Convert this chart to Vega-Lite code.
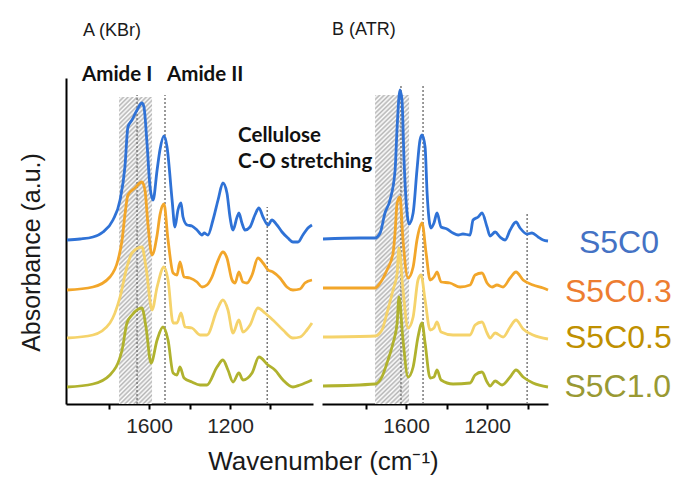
{
  "$schema": "https://vega.github.io/schema/vega-lite/v6.json",
  "autosize": {"type": "none"},
  "padding": {"left": 66, "top": 78, "right": 614, "bottom": 405},
  "background": "white",
  "bounds": "flush",
  "spacing": 9,
  "config": {
    "view": {"stroke": null},
    "font": "Liberation Sans",
    "rect": {"fill": {"gradient": "linear", "x1": 0, "y1": 0, "x2": 0.117, "y2": 1.0946, "stops": [
      {"offset":0,"color":"#b5b5b5"},{"offset":0.0067,"color":"#fff"},{"offset":0.0133,"color":"#b5b5b5"},{"offset":0.02,"color":"#fff"},{"offset":0.0267,"color":"#b5b5b5"},{"offset":0.0333,"color":"#fff"},
      {"offset":0.04,"color":"#b5b5b5"},{"offset":0.0467,"color":"#fff"},{"offset":0.0533,"color":"#b5b5b5"},{"offset":0.06,"color":"#fff"},{"offset":0.0667,"color":"#b5b5b5"},{"offset":0.0733,"color":"#fff"},
      {"offset":0.08,"color":"#b5b5b5"},{"offset":0.0867,"color":"#fff"},{"offset":0.0933,"color":"#b5b5b5"},{"offset":0.1,"color":"#fff"},{"offset":0.1067,"color":"#b5b5b5"},{"offset":0.1133,"color":"#fff"},
      {"offset":0.12,"color":"#b5b5b5"},{"offset":0.1267,"color":"#fff"},{"offset":0.1333,"color":"#b5b5b5"},{"offset":0.14,"color":"#fff"},{"offset":0.1467,"color":"#b5b5b5"},{"offset":0.1533,"color":"#fff"},
      {"offset":0.16,"color":"#b5b5b5"},{"offset":0.1667,"color":"#fff"},{"offset":0.1733,"color":"#b5b5b5"},{"offset":0.18,"color":"#fff"},{"offset":0.1867,"color":"#b5b5b5"},{"offset":0.1933,"color":"#fff"},
      {"offset":0.2,"color":"#b5b5b5"},{"offset":0.2067,"color":"#fff"},{"offset":0.2133,"color":"#b5b5b5"},{"offset":0.22,"color":"#fff"},{"offset":0.2267,"color":"#b5b5b5"},{"offset":0.2333,"color":"#fff"},
      {"offset":0.24,"color":"#b5b5b5"},{"offset":0.2467,"color":"#fff"},{"offset":0.2533,"color":"#b5b5b5"},{"offset":0.26,"color":"#fff"},{"offset":0.2667,"color":"#b5b5b5"},{"offset":0.2733,"color":"#fff"},
      {"offset":0.28,"color":"#b5b5b5"},{"offset":0.2867,"color":"#fff"},{"offset":0.2933,"color":"#b5b5b5"},{"offset":0.3,"color":"#fff"},{"offset":0.3067,"color":"#b5b5b5"},{"offset":0.3133,"color":"#fff"},
      {"offset":0.32,"color":"#b5b5b5"},{"offset":0.3267,"color":"#fff"},{"offset":0.3333,"color":"#b5b5b5"},{"offset":0.34,"color":"#fff"},{"offset":0.3467,"color":"#b5b5b5"},{"offset":0.3533,"color":"#fff"},
      {"offset":0.36,"color":"#b5b5b5"},{"offset":0.3667,"color":"#fff"},{"offset":0.3733,"color":"#b5b5b5"},{"offset":0.38,"color":"#fff"},{"offset":0.3867,"color":"#b5b5b5"},{"offset":0.3933,"color":"#fff"},
      {"offset":0.4,"color":"#b5b5b5"},{"offset":0.4067,"color":"#fff"},{"offset":0.4133,"color":"#b5b5b5"},{"offset":0.42,"color":"#fff"},{"offset":0.4267,"color":"#b5b5b5"},{"offset":0.4333,"color":"#fff"},
      {"offset":0.44,"color":"#b5b5b5"},{"offset":0.4467,"color":"#fff"},{"offset":0.4533,"color":"#b5b5b5"},{"offset":0.46,"color":"#fff"},{"offset":0.4667,"color":"#b5b5b5"},{"offset":0.4733,"color":"#fff"},
      {"offset":0.48,"color":"#b5b5b5"},{"offset":0.4867,"color":"#fff"},{"offset":0.4933,"color":"#b5b5b5"},{"offset":0.5,"color":"#fff"},{"offset":0.5067,"color":"#b5b5b5"},{"offset":0.5133,"color":"#fff"},
      {"offset":0.52,"color":"#b5b5b5"},{"offset":0.5267,"color":"#fff"},{"offset":0.5333,"color":"#b5b5b5"},{"offset":0.54,"color":"#fff"},{"offset":0.5467,"color":"#b5b5b5"},{"offset":0.5533,"color":"#fff"},
      {"offset":0.56,"color":"#b5b5b5"},{"offset":0.5667,"color":"#fff"},{"offset":0.5733,"color":"#b5b5b5"},{"offset":0.58,"color":"#fff"},{"offset":0.5867,"color":"#b5b5b5"},{"offset":0.5933,"color":"#fff"},
      {"offset":0.6,"color":"#b5b5b5"},{"offset":0.6067,"color":"#fff"},{"offset":0.6133,"color":"#b5b5b5"},{"offset":0.62,"color":"#fff"},{"offset":0.6267,"color":"#b5b5b5"},{"offset":0.6333,"color":"#fff"},
      {"offset":0.64,"color":"#b5b5b5"},{"offset":0.6467,"color":"#fff"},{"offset":0.6533,"color":"#b5b5b5"},{"offset":0.66,"color":"#fff"},{"offset":0.6667,"color":"#b5b5b5"},{"offset":0.6733,"color":"#fff"},
      {"offset":0.68,"color":"#b5b5b5"},{"offset":0.6867,"color":"#fff"},{"offset":0.6933,"color":"#b5b5b5"},{"offset":0.7,"color":"#fff"},{"offset":0.7067,"color":"#b5b5b5"},{"offset":0.7133,"color":"#fff"},
      {"offset":0.72,"color":"#b5b5b5"},{"offset":0.7267,"color":"#fff"},{"offset":0.7333,"color":"#b5b5b5"},{"offset":0.74,"color":"#fff"},{"offset":0.7467,"color":"#b5b5b5"},{"offset":0.7533,"color":"#fff"},
      {"offset":0.76,"color":"#b5b5b5"},{"offset":0.7667,"color":"#fff"},{"offset":0.7733,"color":"#b5b5b5"},{"offset":0.78,"color":"#fff"},{"offset":0.7867,"color":"#b5b5b5"},{"offset":0.7933,"color":"#fff"},
      {"offset":0.8,"color":"#b5b5b5"},{"offset":0.8067,"color":"#fff"},{"offset":0.8133,"color":"#b5b5b5"},{"offset":0.82,"color":"#fff"},{"offset":0.8267,"color":"#b5b5b5"},{"offset":0.8333,"color":"#fff"},
      {"offset":0.84,"color":"#b5b5b5"},{"offset":0.8467,"color":"#fff"},{"offset":0.8533,"color":"#b5b5b5"},{"offset":0.86,"color":"#fff"},{"offset":0.8667,"color":"#b5b5b5"},{"offset":0.8733,"color":"#fff"},
      {"offset":0.88,"color":"#b5b5b5"},{"offset":0.8867,"color":"#fff"},{"offset":0.8933,"color":"#b5b5b5"},{"offset":0.9,"color":"#fff"},{"offset":0.9067,"color":"#b5b5b5"},{"offset":0.9133,"color":"#fff"},
      {"offset":0.92,"color":"#b5b5b5"},{"offset":0.9267,"color":"#fff"},{"offset":0.9333,"color":"#b5b5b5"},{"offset":0.94,"color":"#fff"},{"offset":0.9467,"color":"#b5b5b5"},{"offset":0.9533,"color":"#fff"},
      {"offset":0.96,"color":"#b5b5b5"},{"offset":0.9667,"color":"#fff"},{"offset":0.9733,"color":"#b5b5b5"},{"offset":0.98,"color":"#fff"},{"offset":0.9867,"color":"#b5b5b5"},{"offset":0.9933,"color":"#fff"},
      {"offset":1,"color":"#b5b5b5"}
    ]}}
  },
  "datasets": {
    "A": [
      {"s":"S5C0","w":2005,"a":1.64},{"s":"S5C0","w":1941,"a":1.65},{"s":"S5C0","w":1877,"a":1.67},{"s":"S5C0","w":1827,"a":1.72},{"s":"S5C0","w":1778,"a":1.84},{"s":"S5C0","w":1743,"a":2.04},{"s":"S5C0","w":1719,"a":2.37},{"s":"S5C0","w":1704,"a":2.77},{"s":"S5C0","w":1684,"a":2.84},{"s":"S5C0","w":1659,"a":2.94},{"s":"S5C0","w":1635,"a":3.01},{"s":"S5C0","w":1625,"a":2.97},{"s":"S5C0","w":1610,"a":2.61},{"s":"S5C0","w":1595,"a":2.17},{"s":"S5C0","w":1580,"a":2.04},{"s":"S5C0","w":1560,"a":2.34},{"s":"S5C0","w":1546,"a":2.54},{"s":"S5C0","w":1526,"a":2.68},{"s":"S5C0","w":1511,"a":2.57},{"s":"S5C0","w":1486,"a":2.04},{"s":"S5C0","w":1472,"a":1.77},{"s":"S5C0","w":1457,"a":1.94},{"s":"S5C0","w":1442,"a":2.01},{"s":"S5C0","w":1432,"a":1.87},{"s":"S5C0","w":1412,"a":1.79},{"s":"S5C0","w":1388,"a":1.78},{"s":"S5C0","w":1363,"a":1.74},{"s":"S5C0","w":1338,"a":1.69},{"s":"S5C0","w":1328,"a":1.71},{"s":"S5C0","w":1309,"a":1.69},{"s":"S5C0","w":1284,"a":1.84},{"s":"S5C0","w":1259,"a":2.04},{"s":"S5C0","w":1235,"a":2.21},{"s":"S5C0","w":1215,"a":2.11},{"s":"S5C0","w":1200,"a":1.87},{"s":"S5C0","w":1185,"a":1.74},{"s":"S5C0","w":1165,"a":1.87},{"s":"S5C0","w":1156,"a":1.91},{"s":"S5C0","w":1141,"a":1.81},{"s":"S5C0","w":1126,"a":1.74},{"s":"S5C0","w":1101,"a":1.77},{"s":"S5C0","w":1077,"a":1.89},{"s":"S5C0","w":1057,"a":1.96},{"s":"S5C0","w":1037,"a":1.87},{"s":"S5C0","w":1012,"a":1.79},{"s":"S5C0","w":993,"a":1.84},{"s":"S5C0","w":968,"a":1.79},{"s":"S5C0","w":943,"a":1.72},{"s":"S5C0","w":914,"a":1.66},{"s":"S5C0","w":889,"a":1.62},{"s":"S5C0","w":864,"a":1.62},{"s":"S5C0","w":840,"a":1.69},{"s":"S5C0","w":815,"a":1.76},{"s":"S5C0","w":795,"a":1.79},
      {"s":"S5C0.3","w":2005,"a":1.14},{"s":"S5C0.3","w":1877,"a":1.17},{"s":"S5C0.3","w":1793,"a":1.27},{"s":"S5C0.3","w":1753,"a":1.44},{"s":"S5C0.3","w":1733,"a":1.64},{"s":"S5C0.3","w":1719,"a":1.89},{"s":"S5C0.3","w":1704,"a":2.09},{"s":"S5C0.3","w":1669,"a":2.16},{"s":"S5C0.3","w":1635,"a":2.22},{"s":"S5C0.3","w":1620,"a":2.14},{"s":"S5C0.3","w":1605,"a":1.79},{"s":"S5C0.3","w":1585,"a":1.49},{"s":"S5C0.3","w":1560,"a":1.69},{"s":"S5C0.3","w":1546,"a":1.89},{"s":"S5C0.3","w":1526,"a":2.0},{"s":"S5C0.3","w":1506,"a":1.64},{"s":"S5C0.3","w":1481,"a":1.31},{"s":"S5C0.3","w":1462,"a":1.29},{"s":"S5C0.3","w":1447,"a":1.42},{"s":"S5C0.3","w":1427,"a":1.27},{"s":"S5C0.3","w":1398,"a":1.26},{"s":"S5C0.3","w":1363,"a":1.22},{"s":"S5C0.3","w":1338,"a":1.17},{"s":"S5C0.3","w":1314,"a":1.19},{"s":"S5C0.3","w":1289,"a":1.27},{"s":"S5C0.3","w":1264,"a":1.41},{"s":"S5C0.3","w":1235,"a":1.52},{"s":"S5C0.3","w":1215,"a":1.46},{"s":"S5C0.3","w":1190,"a":1.24},{"s":"S5C0.3","w":1175,"a":1.21},{"s":"S5C0.3","w":1156,"a":1.32},{"s":"S5C0.3","w":1136,"a":1.22},{"s":"S5C0.3","w":1116,"a":1.21},{"s":"S5C0.3","w":1091,"a":1.29},{"s":"S5C0.3","w":1062,"a":1.46},{"s":"S5C0.3","w":1037,"a":1.41},{"s":"S5C0.3","w":1012,"a":1.34},{"s":"S5C0.3","w":988,"a":1.32},{"s":"S5C0.3","w":953,"a":1.26},{"s":"S5C0.3","w":919,"a":1.17},{"s":"S5C0.3","w":889,"a":1.14},{"s":"S5C0.3","w":854,"a":1.15},{"s":"S5C0.3","w":830,"a":1.21},{"s":"S5C0.3","w":795,"a":1.24},
      {"s":"S5C0.5","w":2005,"a":0.66},{"s":"S5C0.5","w":1877,"a":0.69},{"s":"S5C0.5","w":1793,"a":0.81},{"s":"S5C0.5","w":1743,"a":1.07},{"s":"S5C0.5","w":1709,"a":1.37},{"s":"S5C0.5","w":1684,"a":1.51},{"s":"S5C0.5","w":1635,"a":1.57},{"s":"S5C0.5","w":1615,"a":1.37},{"s":"S5C0.5","w":1585,"a":0.94},{"s":"S5C0.5","w":1560,"a":1.17},{"s":"S5C0.5","w":1526,"a":1.37},{"s":"S5C0.5","w":1506,"a":1.24},{"s":"S5C0.5","w":1481,"a":0.81},{"s":"S5C0.5","w":1462,"a":0.81},{"s":"S5C0.5","w":1442,"a":0.91},{"s":"S5C0.5","w":1422,"a":0.77},{"s":"S5C0.5","w":1388,"a":0.76},{"s":"S5C0.5","w":1348,"a":0.69},{"s":"S5C0.5","w":1314,"a":0.69},{"s":"S5C0.5","w":1264,"a":0.94},{"s":"S5C0.5","w":1235,"a":1.04},{"s":"S5C0.5","w":1210,"a":0.94},{"s":"S5C0.5","w":1185,"a":0.71},{"s":"S5C0.5","w":1156,"a":0.84},{"s":"S5C0.5","w":1136,"a":0.72},{"s":"S5C0.5","w":1101,"a":0.79},{"s":"S5C0.5","w":1062,"a":0.96},{"s":"S5C0.5","w":1027,"a":0.91},{"s":"S5C0.5","w":988,"a":0.84},{"s":"S5C0.5","w":938,"a":0.74},{"s":"S5C0.5","w":889,"a":0.66},{"s":"S5C0.5","w":854,"a":0.67},{"s":"S5C0.5","w":820,"a":0.74},{"s":"S5C0.5","w":795,"a":0.81},
      {"s":"S5C1.0","w":2005,"a":0.17},{"s":"S5C1.0","w":1877,"a":0.2},{"s":"S5C1.0","w":1793,"a":0.29},{"s":"S5C1.0","w":1733,"a":0.54},{"s":"S5C1.0","w":1709,"a":0.81},{"s":"S5C1.0","w":1684,"a":0.89},{"s":"S5C1.0","w":1635,"a":0.96},{"s":"S5C1.0","w":1615,"a":0.77},{"s":"S5C1.0","w":1590,"a":0.41},{"s":"S5C1.0","w":1560,"a":0.64},{"s":"S5C1.0","w":1531,"a":0.77},{"s":"S5C1.0","w":1506,"a":0.64},{"s":"S5C1.0","w":1481,"a":0.31},{"s":"S5C1.0","w":1462,"a":0.29},{"s":"S5C1.0","w":1447,"a":0.37},{"s":"S5C1.0","w":1427,"a":0.26},{"s":"S5C1.0","w":1388,"a":0.22},{"s":"S5C1.0","w":1348,"a":0.19},{"s":"S5C1.0","w":1314,"a":0.19},{"s":"S5C1.0","w":1264,"a":0.37},{"s":"S5C1.0","w":1235,"a":0.44},{"s":"S5C1.0","w":1210,"a":0.34},{"s":"S5C1.0","w":1185,"a":0.22},{"s":"S5C1.0","w":1156,"a":0.31},{"s":"S5C1.0","w":1136,"a":0.24},{"s":"S5C1.0","w":1091,"a":0.31},{"s":"S5C1.0","w":1057,"a":0.47},{"s":"S5C1.0","w":1012,"a":0.39},{"s":"S5C1.0","w":978,"a":0.34},{"s":"S5C1.0","w":938,"a":0.24},{"s":"S5C1.0","w":889,"a":0.17},{"s":"S5C1.0","w":854,"a":0.19},{"s":"S5C1.0","w":795,"a":0.24}
    ],
    "B": [
      {"s":"S5C0","w":2010,"a":1.65},{"s":"S5C0","w":1827,"a":1.66},{"s":"S5C0","w":1753,"a":1.66},{"s":"S5C0","w":1728,"a":1.71},{"s":"S5C0","w":1704,"a":1.91},{"s":"S5C0","w":1679,"a":2.04},{"s":"S5C0","w":1654,"a":2.34},{"s":"S5C0","w":1644,"a":2.77},{"s":"S5C0","w":1630,"a":3.14},{"s":"S5C0","w":1620,"a":3.04},{"s":"S5C0","w":1610,"a":2.44},{"s":"S5C0","w":1595,"a":1.91},{"s":"S5C0","w":1585,"a":1.8},{"s":"S5C0","w":1565,"a":1.91},{"s":"S5C0","w":1546,"a":2.34},{"s":"S5C0","w":1531,"a":2.64},{"s":"S5C0","w":1521,"a":2.69},{"s":"S5C0","w":1506,"a":2.57},{"s":"S5C0","w":1496,"a":2.11},{"s":"S5C0","w":1477,"a":1.76},{"s":"S5C0","w":1462,"a":1.81},{"s":"S5C0","w":1447,"a":1.91},{"s":"S5C0","w":1427,"a":1.77},{"s":"S5C0","w":1398,"a":1.75},{"s":"S5C0","w":1368,"a":1.71},{"s":"S5C0","w":1343,"a":1.69},{"s":"S5C0","w":1319,"a":1.7},{"s":"S5C0","w":1284,"a":1.69},{"s":"S5C0","w":1269,"a":1.84},{"s":"S5C0","w":1244,"a":1.87},{"s":"S5C0","w":1225,"a":1.91},{"s":"S5C0","w":1200,"a":1.77},{"s":"S5C0","w":1185,"a":1.68},{"s":"S5C0","w":1160,"a":1.72},{"s":"S5C0","w":1136,"a":1.67},{"s":"S5C0","w":1111,"a":1.64},{"s":"S5C0","w":1086,"a":1.74},{"s":"S5C0","w":1057,"a":1.82},{"s":"S5C0","w":1037,"a":1.76},{"s":"S5C0","w":1002,"a":1.7},{"s":"S5C0","w":978,"a":1.71},{"s":"S5C0","w":948,"a":1.67},{"s":"S5C0","w":923,"a":1.64},{"s":"S5C0","w":899,"a":1.63},
      {"s":"S5C0.3","w":2010,"a":1.16},{"s":"S5C0.3","w":1753,"a":1.16},{"s":"S5C0.3","w":1728,"a":1.21},{"s":"S5C0.3","w":1694,"a":1.34},{"s":"S5C0.3","w":1664,"a":1.51},{"s":"S5C0.3","w":1654,"a":1.72},{"s":"S5C0.3","w":1644,"a":2.01},{"s":"S5C0.3","w":1630,"a":2.07},{"s":"S5C0.3","w":1615,"a":1.64},{"s":"S5C0.3","w":1590,"a":1.26},{"s":"S5C0.3","w":1565,"a":1.37},{"s":"S5C0.3","w":1546,"a":1.64},{"s":"S5C0.3","w":1521,"a":1.81},{"s":"S5C0.3","w":1501,"a":1.51},{"s":"S5C0.3","w":1481,"a":1.24},{"s":"S5C0.3","w":1462,"a":1.27},{"s":"S5C0.3","w":1447,"a":1.32},{"s":"S5C0.3","w":1427,"a":1.22},{"s":"S5C0.3","w":1383,"a":1.21},{"s":"S5C0.3","w":1333,"a":1.17},{"s":"S5C0.3","w":1284,"a":1.19},{"s":"S5C0.3","w":1259,"a":1.29},{"s":"S5C0.3","w":1225,"a":1.31},{"s":"S5C0.3","w":1200,"a":1.21},{"s":"S5C0.3","w":1175,"a":1.17},{"s":"S5C0.3","w":1151,"a":1.19},{"s":"S5C0.3","w":1121,"a":1.17},{"s":"S5C0.3","w":1086,"a":1.26},{"s":"S5C0.3","w":1057,"a":1.32},{"s":"S5C0.3","w":1022,"a":1.24},{"s":"S5C0.3","w":973,"a":1.19},{"s":"S5C0.3","w":923,"a":1.16},{"s":"S5C0.3","w":899,"a":1.14},
      {"s":"S5C0.5","w":2010,"a":0.67},{"s":"S5C0.5","w":1753,"a":0.68},{"s":"S5C0.5","w":1719,"a":0.74},{"s":"S5C0.5","w":1694,"a":0.91},{"s":"S5C0.5","w":1664,"a":1.14},{"s":"S5C0.5","w":1644,"a":1.31},{"s":"S5C0.5","w":1635,"a":1.56},{"s":"S5C0.5","w":1615,"a":1.14},{"s":"S5C0.5","w":1590,"a":0.76},{"s":"S5C0.5","w":1565,"a":0.87},{"s":"S5C0.5","w":1541,"a":1.24},{"s":"S5C0.5","w":1526,"a":1.29},{"s":"S5C0.5","w":1506,"a":1.04},{"s":"S5C0.5","w":1481,"a":0.74},{"s":"S5C0.5","w":1462,"a":0.76},{"s":"S5C0.5","w":1447,"a":0.82},{"s":"S5C0.5","w":1427,"a":0.72},{"s":"S5C0.5","w":1368,"a":0.69},{"s":"S5C0.5","w":1284,"a":0.69},{"s":"S5C0.5","w":1259,"a":0.79},{"s":"S5C0.5","w":1225,"a":0.82},{"s":"S5C0.5","w":1200,"a":0.71},{"s":"S5C0.5","w":1185,"a":0.66},{"s":"S5C0.5","w":1160,"a":0.71},{"s":"S5C0.5","w":1121,"a":0.67},{"s":"S5C0.5","w":1086,"a":0.77},{"s":"S5C0.5","w":1057,"a":0.84},{"s":"S5C0.5","w":1022,"a":0.75},{"s":"S5C0.5","w":973,"a":0.69},{"s":"S5C0.5","w":899,"a":0.65},
      {"s":"S5C1.0","w":2010,"a":0.18},{"s":"S5C1.0","w":1753,"a":0.2},{"s":"S5C1.0","w":1719,"a":0.27},{"s":"S5C1.0","w":1694,"a":0.41},{"s":"S5C1.0","w":1664,"a":0.61},{"s":"S5C1.0","w":1644,"a":0.81},{"s":"S5C1.0","w":1635,"a":1.07},{"s":"S5C1.0","w":1615,"a":0.64},{"s":"S5C1.0","w":1590,"a":0.27},{"s":"S5C1.0","w":1565,"a":0.37},{"s":"S5C1.0","w":1541,"a":0.67},{"s":"S5C1.0","w":1521,"a":0.81},{"s":"S5C1.0","w":1506,"a":0.61},{"s":"S5C1.0","w":1481,"a":0.26},{"s":"S5C1.0","w":1462,"a":0.27},{"s":"S5C1.0","w":1447,"a":0.34},{"s":"S5C1.0","w":1427,"a":0.24},{"s":"S5C1.0","w":1368,"a":0.2},{"s":"S5C1.0","w":1284,"a":0.21},{"s":"S5C1.0","w":1259,"a":0.29},{"s":"S5C1.0","w":1225,"a":0.32},{"s":"S5C1.0","w":1200,"a":0.22},{"s":"S5C1.0","w":1185,"a":0.18},{"s":"S5C1.0","w":1160,"a":0.23},{"s":"S5C1.0","w":1126,"a":0.19},{"s":"S5C1.0","w":1086,"a":0.27},{"s":"S5C1.0","w":1057,"a":0.34},{"s":"S5C1.0","w":1022,"a":0.27},{"s":"S5C1.0","w":973,"a":0.21},{"s":"S5C1.0","w":899,"a":0.17}
    ],
    "hatchA": [{"w":1748,"w2":1585,"a":0,"a2":3.07}],
    "hatchB": [{"w":1753,"w2":1585,"a":0,"a2":3.09}],
    "dotsA": [{"w":1659,"a":0,"a2":3.09},{"w":1521,"a":0,"a2":3.09},{"w":1016,"a":0,"a2":1.97}],
    "dotsB": [{"w":1625,"a":0,"a2":3.18},{"w":1516,"a":0,"a2":3.18},{"w":1002,"a":0,"a2":1.9}],
    "notesA": [
      {"t":"Amide I","w":1931,"a":3.233},
      {"t":"Amide II","w":1511,"a":3.233},
      {"t":"Cellulose","w":1160,"a":2.623},
      {"t":"C-O stretching","w":1160,"a":2.36}
    ],
    "labelsB": [
      {"s":"S5C0","w":746,"a":1.51},
      {"s":"S5C0.3","w":815,"a":1.02},
      {"s":"S5C0.5","w":815,"a":0.56},
      {"s":"S5C1.0","w":818,"a":0.07}
    ]
  },
  "hconcat": [
    {
      "width": 247,
      "height": 326,
      "title": {"text": "A (KBr)", "anchor": "start", "frame": "group", "dx": 17, "offset": 11, "baseline": "alphabetic", "fontSize": 18, "fontWeight": "normal", "color": "#1a1a1a", "font": "Liberation Sans"},
      "encoding": {
        "x": {"field": "w", "type": "quantitative",
          "scale": {"domain": [790, 2010], "reverse": true, "nice": false, "zero": false},
          "axis": {"values": [1800, 1600, 1400, 1200, 1000], "format": "d",
            "labelExpr": "datum.value == 1600 || datum.value == 1200 ? datum.label : ''",
            "title": "Wavenumber (cm⁻¹)", "titleX": 257, "titleY": 65, "titleAlign": "center", "titleBaseline": "alphabetic",
            "titleFontSize": 26, "titleFontWeight": "normal", "titleColor": "#1a1a1a", "titleFont": "Liberation Sans",
            "labelFontSize": 21, "labelColor": "#262626", "labelFont": "Liberation Sans", "labelPadding": 6, "labelFlush": false, "labelOverlap": false,
            "tickSize": 5, "tickColor": "black", "tickWidth": 2, "domainColor": "black", "domainWidth": 2, "grid": false}},
        "y": {"field": "a", "type": "quantitative",
          "scale": {"domain": [0, 3.26], "nice": false, "zero": false},
          "axis": {"title": "Absorbance (a.u.)", "labels": false, "ticks": false, "grid": false, "domainColor": "black", "domainWidth": 2,
            "titleX": -27, "titleY": 174, "titleAngle": 270, "titleAlign": "center", "titleBaseline": "alphabetic",
            "titleFontSize": 25, "titleFontWeight": "normal", "titleColor": "#1a1a1a", "titleFont": "Liberation Sans"}}
      },
      "layer": [
        {"data": {"name": "hatchA"}, "mark": {"type": "rect"},
         "encoding": {"x2": {"field": "w2"}, "y2": {"field": "a2"}}},
        {"data": {"name": "dotsA"}, "mark": {"type": "rule", "stroke": "#7a7a7a", "strokeWidth": 1.5, "strokeDash": [2, 2]},
         "encoding": {"y2": {"field": "a2"}}},
        {"data": {"name": "A"}, "mark": {"type": "line", "strokeWidth": 2.8, "interpolate": "monotone"},
         "encoding": {"stroke": {"field": "s", "type": "nominal",
           "scale": {"domain": ["S5C0", "S5C0.3", "S5C0.5", "S5C1.0"], "range": ["#2f72d6", "#f2a62a", "#f5d36b", "#b0b22e"]}, "legend": null}}},
        {"data": {"name": "notesA"}, "mark": {"type": "text", "align": "left", "baseline": "alphabetic", "font": "Lato", "fontWeight": "bold", "fontSize": 20.5, "fill": "#111111"},
         "encoding": {"text": {"field": "t"}}}
      ]
    },
    {
      "width": 226,
      "height": 326,
      "title": {"text": "B (ATR)", "anchor": "start", "frame": "group", "dx": 10, "offset": 25, "baseline": "alphabetic", "fontSize": 18, "fontWeight": "normal", "color": "#1a1a1a", "font": "Liberation Sans"},
      "encoding": {
        "x": {"field": "w", "type": "quantitative",
          "scale": {"domain": [899, 2015], "reverse": true, "nice": false, "zero": false},
          "axis": {"values": [1800, 1600, 1400, 1200, 1000], "format": "d",
            "labelExpr": "datum.value == 1600 || datum.value == 1200 ? datum.label : ''",
            "title": null,
            "labelFontSize": 21, "labelColor": "#262626", "labelFont": "Liberation Sans", "labelPadding": 6, "labelFlush": false, "labelOverlap": false,
            "tickSize": 5, "tickColor": "black", "tickWidth": 2, "domainColor": "black", "domainWidth": 2, "grid": false}},
        "y": {"field": "a", "type": "quantitative",
          "scale": {"domain": [0, 3.26], "nice": false, "zero": false},
          "axis": null}
      },
      "layer": [
        {"data": {"name": "hatchB"}, "mark": {"type": "rect"},
         "encoding": {"x2": {"field": "w2"}, "y2": {"field": "a2"}}},
        {"data": {"name": "dotsB"}, "mark": {"type": "rule", "stroke": "#7a7a7a", "strokeWidth": 1.5, "strokeDash": [2, 2]},
         "encoding": {"y2": {"field": "a2"}}},
        {"data": {"name": "B"}, "mark": {"type": "line", "strokeWidth": 2.8, "interpolate": "monotone"},
         "encoding": {"stroke": {"field": "s", "type": "nominal",
           "scale": {"domain": ["S5C0", "S5C0.3", "S5C0.5", "S5C1.0"], "range": ["#2f72d6", "#f2a62a", "#f5d36b", "#b0b22e"]}, "legend": null}}},
        {"data": {"name": "labelsB"}, "mark": {"type": "text", "align": "left", "baseline": "alphabetic", "font": "Liberation Sans", "fontSize": 32},
         "encoding": {"text": {"field": "s"}, "fill": {"field": "s", "type": "nominal",
           "scale": {"domain": ["S5C0", "S5C0.3", "S5C0.5", "S5C1.0"], "range": ["#4472c4", "#ed7d31", "#bf9000", "#999933"]}, "legend": null}}}
      ]
    }
  ]
}
